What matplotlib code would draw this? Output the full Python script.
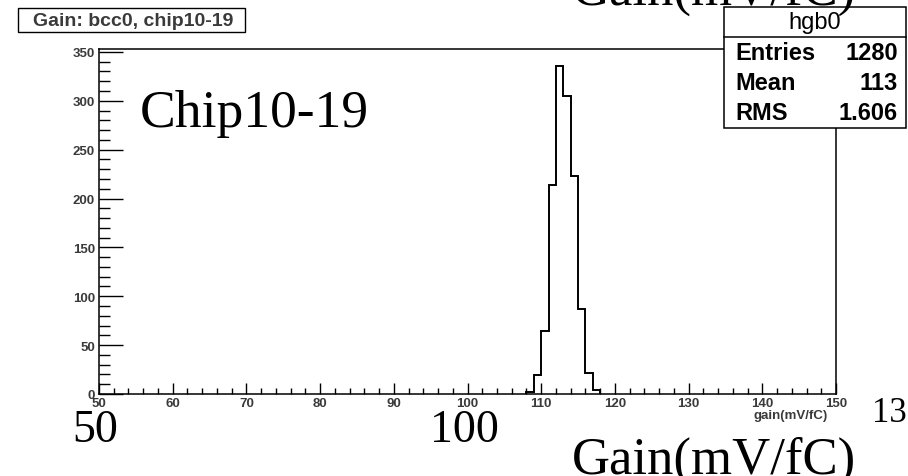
import matplotlib
matplotlib.use("Agg")
import matplotlib.pyplot as plt
from matplotlib.patches import Rectangle
from matplotlib.lines import Line2D
from matplotlib.ticker import MultipleLocator

# ---- data ----
bin_edges = [108, 109, 110, 111, 112, 113, 114, 115, 116, 117, 118]
counts = [2, 19, 64, 214, 336, 305, 223, 87, 21, 4]
x_range = [50, 150]
y_range = [0, 353]
x_ticks = [50, 60, 70, 80, 90, 100, 110, 120, 130, 140, 150]
y_ticks = [0, 50, 100, 150, 200, 250, 300, 350]
title = "Gain: bcc0, chip10-19"
x_label = "gain(mV/fC)"
stats_name = "hgb0"
stats_rows = [("Entries", "1280"), ("Mean", "113"), ("RMS", "1.606")]
overlay_chip = "Chip10-19"
overlay_gain = "Gain(mV/fC)"
overlay_50 = "50"
overlay_100 = "100"
overlay_13 = "13"

W, H = 908, 477
def fx(px):
    return px / W
def fy(py):
    return 1 - py / H

fig = plt.figure(figsize=(W / 100, H / 100), dpi=100)
fig.patch.set_facecolor("white")

ax = fig.add_axes([fx(99), fy(395), fx(836) - fx(99), fy(50) - fy(395)])
ax.stairs(counts, bin_edges, color="black", linewidth=1.4, baseline=0)
ax.set_xlim(*x_range)
ax.set_ylim(*y_range)
ax.set_xticks(x_ticks)
ax.set_yticks(y_ticks)
ax.xaxis.set_minor_locator(MultipleLocator(2))
ax.yaxis.set_minor_locator(MultipleLocator(10))
for s in ax.spines.values():
    s.set_linewidth(1.1)
    s.set_color("black")
ax.tick_params(axis="x", which="major", direction="in", length=8, width=1.0,
               top=False, pad=2.5, labelsize=9.5, labelcolor="#3a3a3a")
ax.tick_params(axis="x", which="minor", direction="in", length=4, width=1.0, top=False)
ax.tick_params(axis="y", which="major", direction="in", length=17, width=1.0,
               right=False, pad=3, labelsize=9.5, labelcolor="#3a3a3a")
ax.tick_params(axis="y", which="minor", direction="in", length=8, width=1.0, right=False)
for lab in ax.get_xticklabels() + ax.get_yticklabels():
    lab.set_fontfamily("Liberation Sans")
    lab.set_fontweight("bold")

fig.text(fx(828), fy(416), x_label, ha="right", va="center", fontsize=9.5,
         family="Liberation Sans", weight="bold", color="#3a3a3a")

# title box
fig.add_artist(Rectangle((fx(18), fy(33)), fx(245) - fx(18), fy(9) - fy(33),
                         transform=fig.transFigure, facecolor="white",
                         edgecolor="black", linewidth=1.0, zorder=5))
fig.text(fx(133), fy(21), title, ha="center", va="center", fontsize=14,
         family="Liberation Sans", weight="bold", color="#3a3a3a", zorder=6)

# stats box
sx0, sx1, sy0, sy1 = 724, 906, 8, 129
fig.add_artist(Rectangle((fx(sx0), fy(sy1)), fx(sx1) - fx(sx0), fy(sy0) - fy(sy1),
                         transform=fig.transFigure, facecolor="white",
                         edgecolor="black", linewidth=1.1, zorder=5))
fig.add_artist(Line2D([fx(sx0), fx(sx1)], [fy(38), fy(38)], transform=fig.transFigure,
                      color="black", linewidth=1.1, zorder=6))
fig.text(fx(815), fy(23), stats_name, ha="center", va="center", fontsize=17,
         family="Liberation Sans", color="black", zorder=7)
for (lab, val), yy in zip(stats_rows, [54, 84, 113]):
    fig.text(fx(735), fy(yy), lab, ha="left", va="center", fontsize=17,
             family="Liberation Sans", weight="bold", color="black", zorder=7)
    fig.text(fx(898), fy(yy), val, ha="right", va="center", fontsize=17,
             family="Liberation Sans", weight="bold", color="black", zorder=7)

# overlay texts (serif)
serif = "Liberation Serif"
fig.text(fx(140), fy(127), overlay_chip, ha="left", va="baseline", fontsize=38.5,
         family=serif, color="black", zorder=8)
fig.text(fx(572), fy(5), overlay_gain, ha="left", va="baseline", fontsize=38,
         family=serif, color="black", zorder=8)
fig.text(fx(572), fy(474), overlay_gain, ha="left", va="baseline", fontsize=38,
         family=serif, color="black", zorder=8)
fig.text(fx(72), fy(442), overlay_50, ha="left", va="baseline", fontsize=33,
         family=serif, color="black", zorder=8)
fig.text(fx(430), fy(442), overlay_100, ha="left", va="baseline", fontsize=33,
         family=serif, color="black", zorder=8)
fig.text(fx(872), fy(422), overlay_13, ha="left", va="baseline", fontsize=25,
         family=serif, color="black", zorder=8)

fig.savefig("out.png", dpi=100, facecolor="white")
